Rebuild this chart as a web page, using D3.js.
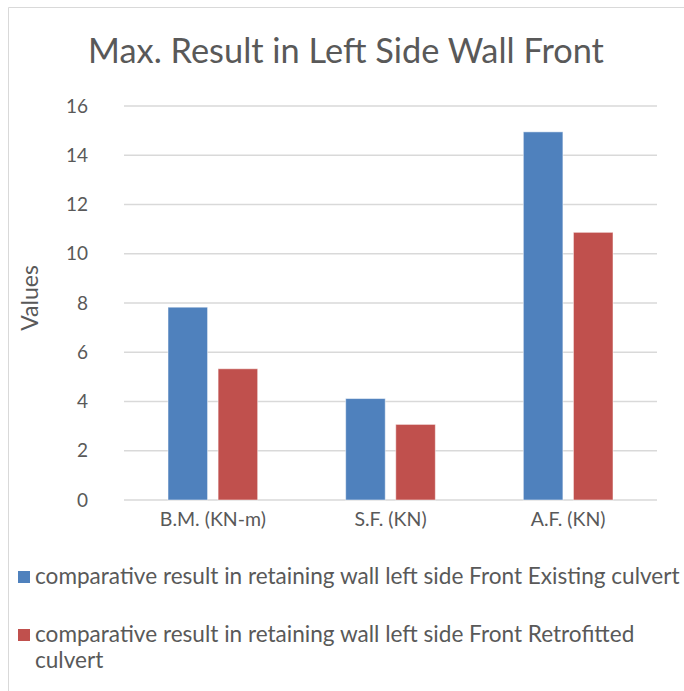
<!DOCTYPE html>
<html>
<head>
<meta charset="utf-8">
<script src="https://cdn.jsdelivr.net/npm/d3@7"></script>
<style>
  body { margin: 0; background: #fff; }
  text { font-family: Lato, "Open Sans", sans-serif; fill: #595959; }
</style>
</head>
<body>
<svg id="chart" width="684" height="691"></svg>
<script>
const categories = ["B.M. (KN-m)", "S.F. (KN)", "A.F. (KN)"];
const seriesNames = [
  "comparative result in retaining wall left side Front Existing culvert",
  "comparative result in retaining wall left side Front Retrofitted culvert"
];
const existing = [7.83, 4.12, 14.95];
const retrofitted = [5.33, 3.07, 10.87];
const yTicks = [0, 2, 4, 6, 8, 10, 12, 14, 16];
const colors = ["#4f81bd", "#c0504d"];

const svg = d3.select("#chart");
const margin = { top: 106, right: 27, bottom: 191, left: 124 };
const width = 684 - margin.left - margin.right;
const height = 691 - margin.top - margin.bottom;

// chart frame
svg.append("path")
  .attr("d", "M8.5,691 V7.5 H684")
  .attr("fill", "none")
  .attr("stroke", "#d9d9d9")
  .attr("stroke-width", 1);

// scale font so the text takes the width it has in the picture
const fitText = (sel, target) => {
  const size = parseFloat(sel.style("font-size"));
  const len = sel.node().getComputedTextLength();
  const s = size * target / len;
  sel.style("font-size", s.toFixed(2) + "px");
  return s;
};

const title = svg.append("text")
  .attr("x", 346)
  .attr("y", 63)
  .attr("text-anchor", "middle")
  .style("font-size", "30px")
  .text("Max. Result in Left Side Wall Front");
fitText(title, 516);

const g = svg.append("g")
  .attr("transform", `translate(${margin.left},${margin.top})`);

const x0 = d3.scaleBand().domain(categories).range([0, width]);
const x1 = d3.scaleBand().domain([0, 1]).range([44, x0.bandwidth() - 44]).paddingInner(0.21);
const y = d3.scaleLinear().domain([0, 16]).range([height, 0]);

// gridlines
g.append("g")
  .selectAll("line")
  .data(yTicks)
  .join("line")
  .attr("x1", 0)
  .attr("x2", width)
  .attr("y1", d => y(d))
  .attr("y2", d => y(d))
  .attr("stroke", "#d9d9d9")
  .attr("stroke-width", 1.5);

// y tick labels
const yAxis = d3.axisLeft(y).tickValues(yTicks).tickSize(0).tickPadding(36);
g.append("g").call(yAxis)
  .call(a => a.select(".domain").remove())
  .selectAll("text")
  .style("font-size", "19px")
  .style("font-family", "Lato, sans-serif")
  .attr("fill", "#595959");

g.append("text")
  .attr("transform", "rotate(-90)")
  .attr("x", -height / 2 + 5)
  .attr("y", -86)
  .attr("text-anchor", "middle")
  .style("font-size", "23px")
  .text("Values");

// bars
const rows = categories.map((c, i) => ({ cat: c, vals: [existing[i], retrofitted[i]] }));
g.selectAll(".grp")
  .data(rows)
  .join("g")
  .attr("class", "grp")
  .attr("transform", d => `translate(${x0(d.cat)},0)`)
  .selectAll("rect")
  .data(d => d.vals.map((v, k) => ({ v, k })))
  .join("rect")
  .attr("x", d => x1(d.k))
  .attr("width", x1.bandwidth())
  .attr("y", d => y(d.v))
  .attr("height", d => y(0) - y(d.v))
  .attr("fill", d => colors[d.k])
  .attr("stroke", "#fff")
  .attr("stroke-opacity", 0.5)
  .attr("stroke-width", 1);

// category labels
const xAxis = d3.axisBottom(x0).tickSize(0).tickPadding(12);
g.append("g")
  .attr("transform", `translate(0,${height})`)
  .call(xAxis)
  .call(a => a.select(".domain").remove())
  .selectAll("text")
  .style("font-size", "19.5px")
  .style("font-family", "Lato, sans-serif")
  .attr("fill", "#595959");

// legend
const legendTop = [571, 629];
const legend = svg.append("g");
const probe = legend.append("text").style("font-size", "18px").text(seriesNames[0]);
const legendSize = fitText(probe, 645);
probe.remove();
seriesNames.forEach((name, i) => {
  legend.append("rect")
    .attr("x", 18)
    .attr("y", legendTop[i])
    .attr("width", 12)
    .attr("height", 12)
    .attr("fill", colors[i]);
  const t = legend.append("text")
    .attr("x", 35)
    .attr("y", legendTop[i] + 13)
    .style("font-size", legendSize + "px");
  // wrap words to the legend width
  const words = name.split(" ");
  let line = [];
  let tspan = t.append("tspan").attr("x", 35);
  words.forEach(w => {
    line.push(w);
    tspan.text(line.join(" "));
    if (tspan.node().getComputedTextLength() > 647 && line.length > 1) {
      line.pop();
      tspan.text(line.join(" "));
      line = [w];
      tspan = t.append("tspan").attr("x", 35).attr("dy", 26).text(w);
    }
  });
});
</script>
</body>
</html>
